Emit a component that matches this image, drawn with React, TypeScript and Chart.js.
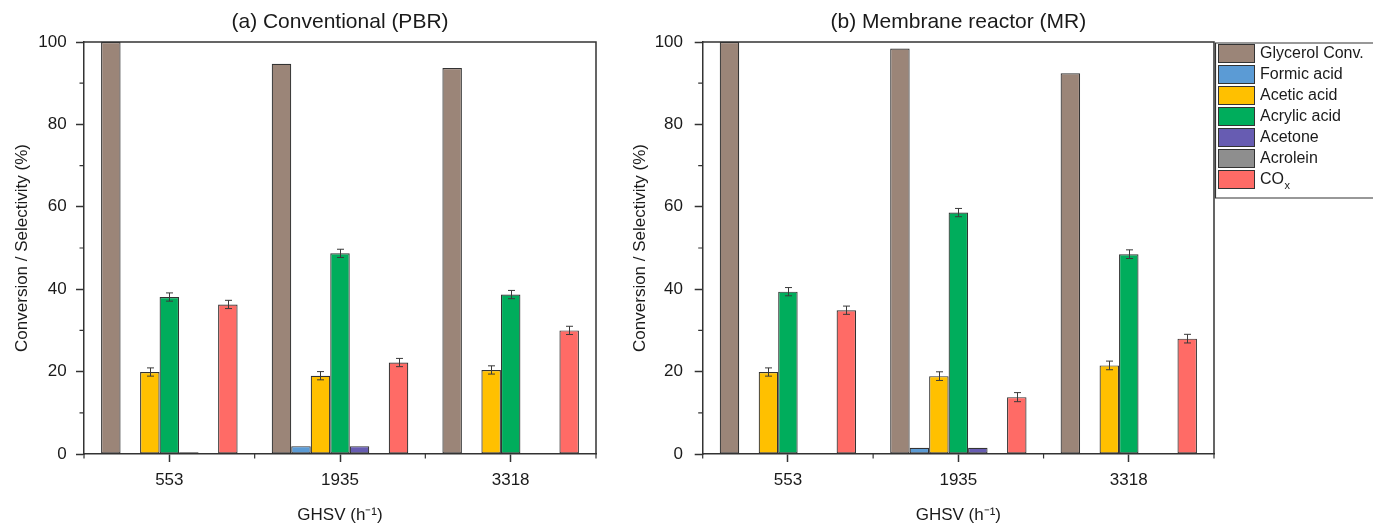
import React, { useEffect, useRef } from "react";
import { Chart, registerables } from "chart.js";

Chart.register(...registerables);

// ---------- data ----------
const categories = ["553", "1935", "3318"];
const seriesNames = ["Glycerol Conv.", "Formic acid", "Acetic acid", "Acrylic acid", "Acetone", "Acrolein", "COₓ"];
const seriesColors = ["#9B8578", "#5B9BD5", "#FFC000", "#00AD5C", "#675CB2", "#8E8E8E", "#FF6B66"];

// (a) Conventional (PBR)
const pbrGlycerol = [100, 94.7, 93.7];
const pbrFormic = [0, 1.9, 0];
const pbrAcetic = [19.9, 19.0, 20.4];
const pbrAcrylic = [38.1, 48.7, 38.7];
const pbrAcetone = [0.4, 1.9, 0.25];
const pbrAcrolein = [0, 0, 0];
const pbrCOx = [36.3, 22.2, 30.0];
const pbrAceticErr = [1.0, 1.0, 1.0];
const pbrAcrylicErr = [1.0, 1.0, 1.0];
const pbrCOxErr = [1.0, 1.0, 1.0];

// (b) Membrane reactor (MR)
const mrGlycerol = [100, 98.4, 92.4];
const mrFormic = [0.2, 1.5, 0.15];
const mrAcetic = [19.9, 18.9, 21.5];
const mrAcrylic = [39.4, 58.6, 48.5];
const mrAcetone = [0, 1.5, 0];
const mrAcrolein = [0, 0, 0];
const mrCOx = [34.9, 13.8, 28.0];
const mrAceticErr = [1.0, 1.05, 1.05];
const mrAcrylicErr = [1.0, 1.0, 1.05];
const mrCOxErr = [1.0, 1.1, 1.05];

const yMajorTicks = [0, 20, 40, 60, 80, 100];
const yMinorTicks = [10, 30, 50, 70, 90];

const titleA = "(a) Conventional (PBR)";
const titleB = "(b) Membrane reactor (MR)";
const yTitle = "Conversion / Selectivity (%)";
const xTitle = "GHSV (h⁻¹)";

const FONT = "'Liberation Sans', Arial, Helvetica, sans-serif";
const AXIS = "#333333";
const TEXT = "#1a1a1a";

// ---------- plugins ----------
const decorPlugin = {
  id: "decor",
  afterDatasetsDraw(chart: any) {
    const { ctx, scales } = chart;
    const y = scales.y;
    ctx.save();
    ctx.strokeStyle = "#3a3a3a";
    ctx.lineWidth = 1;
    chart.data.datasets.forEach((ds: any, i: number) => {
      const errs = ds.errors;
      if (!errs) return;
      const meta = chart.getDatasetMeta(i);
      meta.data.forEach((el: any, j: number) => {
        const v = ds.data[j];
        const e = errs[j];
        if (v == null || !e) return;
        const px = Math.round(el.x) + 0.5;
        const t = y.getPixelForValue(v + e);
        const b = y.getPixelForValue(v - e);
        ctx.beginPath();
        ctx.moveTo(px, t);
        ctx.lineTo(px, b);
        ctx.moveTo(px - 3.5, t);
        ctx.lineTo(px + 3.5, t);
        ctx.moveTo(px - 3.5, b);
        ctx.lineTo(px + 3.5, b);
        ctx.stroke();
      });
    });
    ctx.restore();
  },
  afterDraw(chart: any) {
    const { ctx, chartArea: a, scales } = chart;
    const x = scales.x;
    const y = scales.y;
    ctx.save();
    ctx.strokeStyle = AXIS;
    ctx.lineWidth = 1.5;
    ctx.beginPath();
    ctx.moveTo(a.left, a.top);
    ctx.lineTo(a.right, a.top);
    ctx.lineTo(a.right, a.bottom);
    ctx.stroke();
    // minor y ticks
    ctx.lineWidth = 1.2;
    ctx.beginPath();
    yMinorTicks.forEach((v) => {
      const py = y.getPixelForValue(v);
      ctx.moveTo(a.left - 4.5, py);
      ctx.lineTo(a.left, py);
    });
    // minor x ticks at category boundaries
    for (let i = 0; i <= categories.length; i++) {
      const px = x.getPixelForValue(i - 0.5);
      ctx.moveTo(px, a.bottom);
      ctx.lineTo(px, a.bottom + 4.5);
    }
    ctx.stroke();

    const legendOpts = chart.options.plugins.boxLegend;
    if (legendOpts && legendOpts.show) {
      const left = a.right;
      const top = a.top + 1;
      const rowH = 21;
      const bottom = top + 155;
      ctx.strokeStyle = AXIS;
      ctx.lineWidth = 1.2;
      ctx.beginPath();
      ctx.moveTo(chart.width + 2, top);
      ctx.lineTo(left + 1.5, top);
      ctx.lineTo(left + 1.5, bottom);
      ctx.lineTo(chart.width + 2, bottom);
      ctx.stroke();
      chart.data.datasets.forEach((ds: any, i: number) => {
        const cy = top + 10.5 + i * rowH;
        ctx.fillStyle = ds.backgroundColor;
        ctx.fillRect(left + 4, cy - 9.5, 37, 19);
        ctx.strokeStyle = AXIS;
        ctx.lineWidth = 1;
        ctx.strokeRect(left + 4.5, cy - 9, 36, 18);
        ctx.fillStyle = TEXT;
        ctx.textBaseline = "middle";
        ctx.textAlign = "left";
        const label: string = ds.label;
        const subIdx = label.indexOf("ₓ");
        ctx.font = `16px ${FONT}`;
        if (subIdx >= 0) {
          const main = label.slice(0, subIdx);
          ctx.fillText(main, left + 46, cy);
          const w = ctx.measureText(main).width;
          ctx.font = `11px ${FONT}`;
          ctx.fillText("x", left + 46 + w + 0.5, cy + 6);
        } else {
          ctx.fillText(label, left + 46, cy);
        }
      });
    }
    ctx.restore();
  },
};

function makeDatasets(values: number[][], errors: (number[] | null)[]) {
  return values.map((vals, i) => ({
    label: seriesNames[i],
    data: vals,
    backgroundColor: seriesColors[i],
    borderColor: AXIS,
    borderWidth: 1.2,
    borderSkipped: false,
    inflateAmount: 0,
    categoryPercentage: 0.8,
    barPercentage: 1.0,
    errors: errors[i],
  }));
}

function makeConfig(
  title: string,
  values: number[][],
  errors: (number[] | null)[],
  yAxisWidth: number,
  rightPad: number,
  yTickPad: number,
  yTitlePad: number,
  showLegend: boolean
): any {
  return {
    type: "bar",
    data: { labels: categories, datasets: makeDatasets(values, errors) },
    plugins: [decorPlugin],
    options: {
      responsive: false,
      maintainAspectRatio: false,
      animation: false,
      layout: { padding: { top: 0, right: rightPad, bottom: 0, left: 0 } },
      plugins: {
        legend: { display: false },
        tooltip: { enabled: false },
        boxLegend: { show: showLegend },
        title: {
          display: true,
          text: title,
          fullSize: false,
          color: TEXT,
          font: { family: FONT, size: 21, weight: "normal" },
          padding: { top: 10, bottom: 6.8 },
        },
      },
      scales: {
        x: {
          offset: true,
          afterFit: (s: any) => {
            s.height = 69;
          },
          grid: {
            display: true,
            offset: false,
            drawOnChartArea: false,
            drawTicks: true,
            tickLength: 8,
            tickColor: AXIS,
            tickWidth: 1.5,
          },
          border: { display: true, color: AXIS, width: 1.5 },
          ticks: {
            color: TEXT,
            font: { family: FONT, size: 17 },
            padding: 8,
            maxRotation: 0,
          },
          title: {
            display: true,
            text: xTitle,
            color: TEXT,
            font: { family: FONT, size: 17 },
            padding: { top: 0, bottom: -3 },
          },
        },
        y: {
          min: 0,
          max: 100,
          afterFit: (s: any) => {
            s.width = yAxisWidth;
          },
          afterBuildTicks: (s: any) => {
            s.ticks = yMajorTicks.map((v) => ({ value: v }));
          },
          grid: {
            display: true,
            drawOnChartArea: false,
            drawTicks: true,
            tickLength: 8,
            tickColor: AXIS,
            tickWidth: 1.5,
          },
          border: { display: true, color: AXIS, width: 1.5 },
          ticks: {
            color: TEXT,
            font: { family: FONT, size: 17 },
            padding: yTickPad,
          },
          title: {
            display: true,
            text: yTitle,
            color: TEXT,
            font: { family: FONT, size: 17 },
            padding: { top: yTitlePad, bottom: 0 },
          },
        },
      },
    },
  };
}

function BarChart(props: { config: any; width: number; height: number; left: number }) {
  const ref = useRef<HTMLCanvasElement | null>(null);
  useEffect(() => {
    if (!ref.current) return;
    const chart = new Chart(ref.current, props.config);
    return () => chart.destroy();
  }, []);
  return (
    <div style={{ position: "absolute", left: props.left, top: 0, width: props.width, height: props.height }}>
      <canvas ref={ref} width={props.width} height={props.height} style={{ display: "block" }} />
    </div>
  );
}

export default function App() {
  const configA = makeConfig(
    titleA,
    [pbrGlycerol, pbrFormic, pbrAcetic, pbrAcrylic, pbrAcetone, pbrAcrolein, pbrCOx],
    [null, null, pbrAceticErr, pbrAcrylicErr, null, null, pbrCOxErr],
    84,
    14,
    9.3,
    12,
    false
  );
  const configB = makeConfig(
    titleB,
    [mrGlycerol, mrFormic, mrAcetic, mrAcrylic, mrAcetone, mrAcrolein, mrCOx],
    [null, null, mrAceticErr, mrAcrylicErr, null, null, mrCOxErr],
    92.7,
    159,
    11.7,
    20,
    true
  );
  return (
    <div style={{ position: "absolute", left: 0, top: 0, width: 1373, height: 523, background: "#fff", overflow: "hidden" }}>
      <BarChart config={configA} width={610} height={523} left={0} />
      <BarChart config={configB} width={763} height={523} left={610} />
    </div>
  );
}
